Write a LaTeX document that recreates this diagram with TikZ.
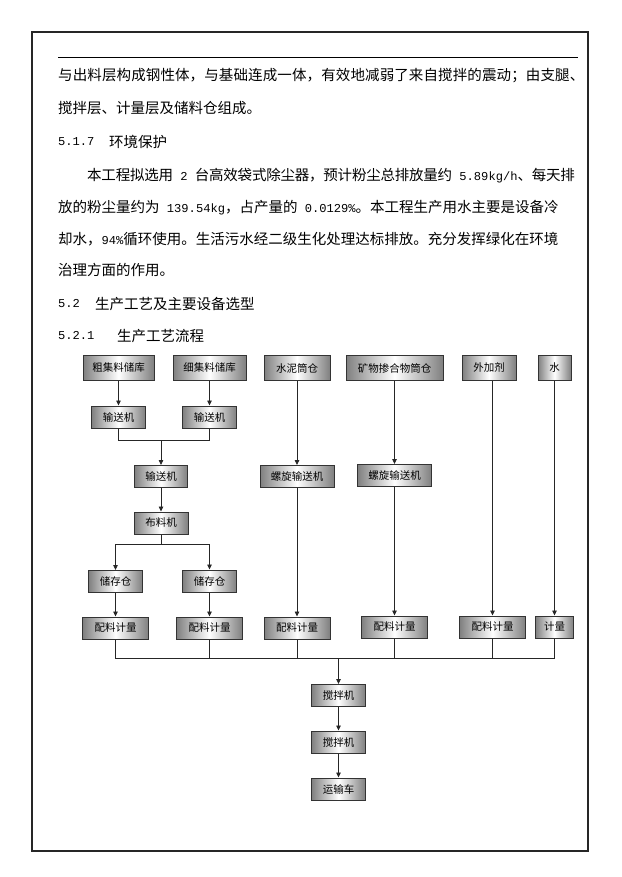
\documentclass[tikz,border=0pt]{standalone}
\usepackage{fontspec}
\setmainfont{Noto Sans CJK SC}
\newfontfamily\latn{Liberation Mono}
\newcommand\asc[1]{{\latn\fontsize{12.1}{17}\selectfont #1}}
\usetikzlibrary{arrows.meta,calc}

\begin{document}
\begin{tikzpicture}[
    x=1pt, y=-1pt,
    box/.style={rectangle,draw=black!80,line width=1pt,left color=black!50,right color=black!50,middle color=white,inner sep=0pt,minimum height=22pt,font=\fontsize{10.5}{12}\selectfont},
    txt/.style={anchor=west,inner sep=0pt,font=\fontsize{14.5}{17}\selectfont},
    link/.style={draw=black!85,line width=0.8pt},
    arrow/.style={link,-{Triangle[length=5pt,width=4.5pt]}}
]
\useasboundingbox (0,0) rectangle (621,877);

% page frame and header rule
\draw[line width=1.5pt,black!85] (32,32) rectangle (588,851);
\draw[line width=0.6pt] (58,57) -- (578,57);

% text lines
\node[txt] (line1) at (58,76) {\addfontfeatures{LetterSpace=0.8}与出料层构成钢性体，与基础连成一体，有效地减弱了来自搅拌的震动；由支腿、};
\node[txt] (line2) at (58,108) {搅拌层、计量层及储料仓组成。};
\node[txt] (sec517) at (58,142) {\asc{5.1.7}};
\node[txt] (sec517t) at (109,142) {环境保护};
\node[txt] (line4) at (87,176) {\addfontfeatures{LetterSpace=-1.5}本工程拟选用\asc{ 2 }台高效袋式除尘器，预计粉尘总排放量约\asc{ 5.89kg/h}、每天排};
\node[txt] (line5) at (58,208) {放的粉尘量约为\asc{ 139.54kg}，占产量的\asc{ 0.0129\%}。本工程生产用水主要是设备冷};
\node[txt] (line6) at (58,239) {却水，\asc{94\%}循环使用。生活污水经二级生化处理达标排放。充分发挥绿化在环境};
\node[txt] (line7) at (58,270) {治理方面的作用。};
\node[txt] (sec52) at (58,304) {\asc{5.2}};
\node[txt] (sec52t) at (95,304) {生产工艺及主要设备选型};
\node[txt] (sec521) at (58,336) {\asc{5.2.1}};
\node[txt] (sec521t) at (117,336) {生产工艺流程};

% raw materials
\node[box,minimum width=71pt,minimum height=25pt] (src1) at (118.5,368) {粗集料储库};
\node[box,minimum width=73pt,minimum height=25pt] (src2) at (209.5,368) {细集料储库};
\node[box,minimum width=66pt,minimum height=25pt] (src3) at (297,368) {水泥筒仓};
\node[box,minimum width=97pt,minimum height=25pt] (src4) at (394.5,368) {矿物掺合物筒仓};
\node[box,minimum width=54pt,minimum height=25pt] (src5) at (489,368) {外加剂};
\node[box,minimum width=33pt,minimum height=25pt] (src6) at (554.5,368) {水};

% conveyors
\node[box,minimum width=54pt] (conv1) at (118.5,417) {输送机};
\node[box,minimum width=54pt] (conv2) at (209.5,417) {输送机};
\node[box,minimum width=53pt] (conv3) at (161,476.5) {输送机};
\node[box,minimum width=74pt] (screw1) at (297,476.5) {螺旋输送机};
\node[box,minimum width=74pt] (screw2) at (394.5,475.5) {螺旋输送机};
\node[box,minimum width=54pt] (spread) at (161,523) {布料机};

% storage bins
\node[box,minimum width=54pt] (bin1) at (115.5,581.5) {储存仓};
\node[box,minimum width=54pt] (bin2) at (209.5,581) {储存仓};

% dosing
\node[box,minimum width=66pt] (dose1) at (115.5,628) {配料计量};
\node[box,minimum width=66pt] (dose2) at (209.5,628) {配料计量};
\node[box,minimum width=66pt] (dose3) at (297,628) {配料计量};
\node[box,minimum width=66pt] (dose4) at (394.5,627) {配料计量};
\node[box,minimum width=66pt] (dose5) at (492.5,627) {配料计量};
\node[box,minimum width=38pt] (dose6) at (554.5,627) {计量};

% mixing and transport
\node[box,minimum width=54pt] (mix1) at (338.5,695.5) {搅拌机};
\node[box,minimum width=54pt] (mix2) at (338.5,742) {搅拌机};
\node[box,minimum width=54pt] (truck) at (338.5,789) {运输车};

% junction points
\coordinate (join1) at (161,440);
\coordinate (join2) at (161,544);
\coordinate (bus) at (338.5,658);

% aggregate branch
\draw[arrow] (src1) -- (conv1);
\draw[arrow] (src2) -- (conv2);
\draw[link] (conv1) -- (conv1 |- join1) -- (conv2 |- join1) -- (conv2);
\draw[arrow] (join1) -- (conv3);
\draw[arrow] (conv3) -- (spread);
\draw[link] (spread) -- (join2);
\draw[arrow] (join2) -| (bin1);
\draw[arrow] (join2) -| (bin2);
\draw[arrow] (bin1) -- (dose1);
\draw[arrow] (bin2) -- (dose2);

% powder and liquid branches
\draw[arrow] (src3) -- (screw1);
\draw[arrow] (screw1) -- (dose3);
\draw[arrow] (src4) -- (screw2);
\draw[arrow] (screw2) -- (dose4);
\draw[arrow] (src5.south -| dose5) -- (dose5);
\draw[arrow] (src6) -- (dose6);

% collect to mixer
\draw[link] (dose1) -- (dose1 |- bus) -- (dose6 |- bus) -- (dose6);
\foreach \i in {2,...,5} {
    \draw[link] (dose\i) -- (dose\i |- bus);
}
\draw[arrow] (bus) -- (mix1);
\draw[arrow] (mix1) -- (mix2);
\draw[arrow] (mix2) -- (truck);

\end{tikzpicture}
\end{document}
